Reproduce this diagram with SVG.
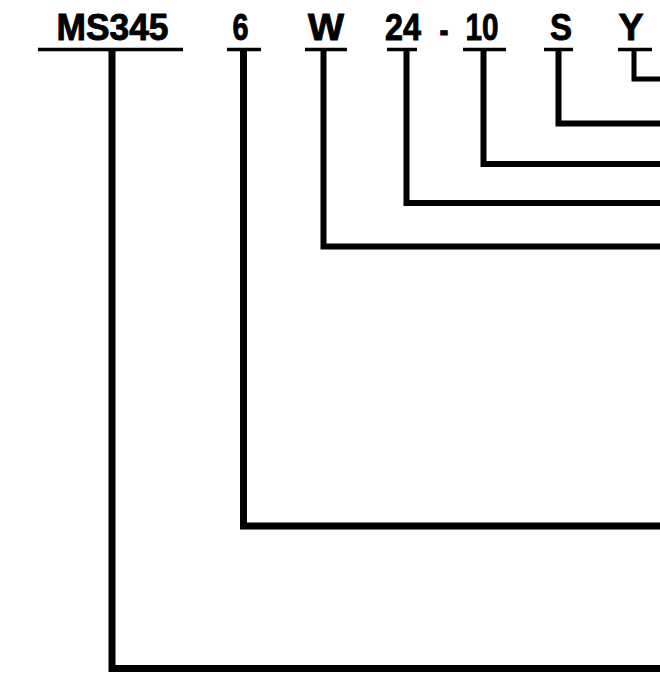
<svg xmlns="http://www.w3.org/2000/svg" width="660" height="675" viewBox="0 0 660 675">
  <style>
    .lbl { font-family: "Liberation Sans", Arial, sans-serif; font-weight: bold; font-size: 36px; fill: #000; stroke: #000; stroke-width: 0.9; text-anchor: middle; }
    .ul { stroke: #000; stroke-width: 3.5; fill: none; }
    .conn { stroke: #000; fill: none; stroke-linejoin: miter; stroke-linecap: butt; }
  </style>
  <rect width="660" height="675" fill="#fff"/>
  <g id="node-ms345">
    <text class="lbl" x="112.5" y="40" textLength="112" lengthAdjust="spacingAndGlyphs">MS345</text>
    <line class="ul" x1="38" y1="49.5" x2="183" y2="49.5"/>
  </g>
  <g id="node-6">
    <text class="lbl" x="240.5" y="40" textLength="16" lengthAdjust="spacingAndGlyphs">6</text>
    <line class="ul" x1="227" y1="49.5" x2="261" y2="49.5"/>
  </g>
  <g id="node-w">
    <text class="lbl" x="326" y="40" textLength="36" lengthAdjust="spacingAndGlyphs">W</text>
    <line class="ul" x1="305" y1="49.5" x2="347" y2="49.5"/>
  </g>
  <g id="node-24">
    <text class="lbl" x="403" y="40" textLength="36" lengthAdjust="spacingAndGlyphs">24</text>
    <line class="ul" x1="387" y1="49.5" x2="417" y2="49.5"/>
  </g>
  <g id="node-dash">
    <text class="lbl" x="444" y="42" textLength="9" lengthAdjust="spacingAndGlyphs" stroke-width="2">-</text>
  </g>
  <g id="node-10">
    <text class="lbl" x="482" y="40" textLength="33" lengthAdjust="spacingAndGlyphs">10</text>
    <line class="ul" x1="463" y1="49.5" x2="506" y2="49.5"/>
  </g>
  <g id="node-s">
    <text class="lbl" x="561" y="40" textLength="22" lengthAdjust="spacingAndGlyphs">S</text>
    <line class="ul" x1="544" y1="49.5" x2="573" y2="49.5"/>
  </g>
  <g id="node-y">
    <text class="lbl" x="631" y="40" textLength="25" lengthAdjust="spacingAndGlyphs">Y</text>
    <line class="ul" x1="618" y1="49.5" x2="652" y2="49.5"/>
  </g>
  <g id="connectors">
    <path class="conn" stroke-width="7" d="M112 50 V668.5 H660"/>
    <path class="conn" stroke-width="7" d="M243.5 50 V526 H660"/>
    <path class="conn" stroke-width="6" d="M323.5 50 V246.5 H660"/>
    <path class="conn" stroke-width="6" d="M406.5 50 V203 H660"/>
    <path class="conn" stroke-width="6" d="M483.5 50 V164 H660"/>
    <path class="conn" stroke-width="6" d="M558.5 50 V123.5 H660"/>
    <path class="conn" stroke-width="5" d="M634 50 V79 H660"/>
  </g>
</svg>
